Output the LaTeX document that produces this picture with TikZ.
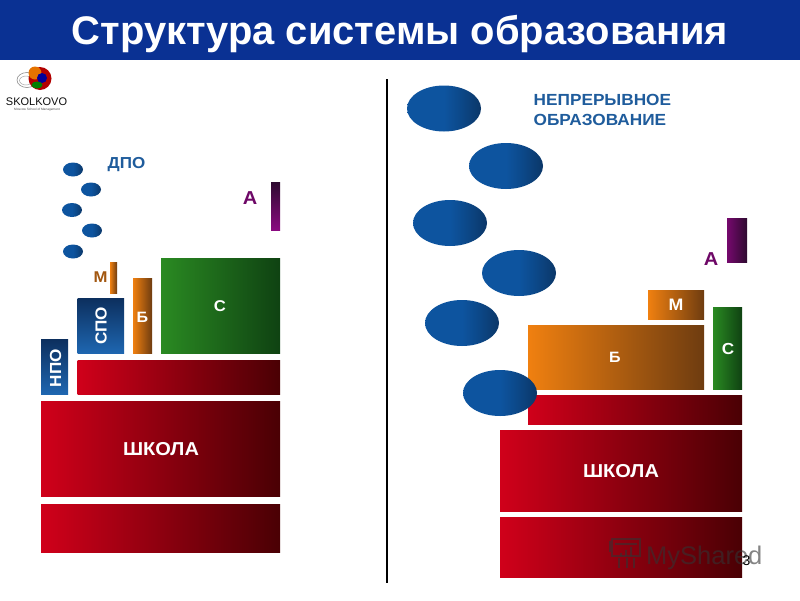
\documentclass[tikz,border=0pt]{standalone}
\usepackage{fontspec}
\setmainfont{Liberation Sans}
\newfontfamily\widefont{Liberation Sans}[FakeStretch=1.07]
\definecolor{band}{HTML}{0A3193}
\definecolor{lab}{HTML}{1F5C9C}
\definecolor{ered}{HTML}{D0001A}
\definecolor{dred}{HTML}{4A0004}
\definecolor{egreen}{HTML}{2A8A22}
\definecolor{dgreen}{HTML}{0F4212}
\definecolor{eora}{HTML}{F08010}
\definecolor{dora}{HTML}{6E3C10}
\definecolor{epur}{HTML}{8A0A80}
\definecolor{dpur}{HTML}{2E0A30}
\definecolor{eblue}{HTML}{1E66B0}
\definecolor{dblue}{HTML}{0C2F5E}
\definecolor{bl}{HTML}{0D549F}
\definecolor{br}{HTML}{0A2A50}
\pgfdeclarehorizontalshading{ballshade}{100bp}{color(0bp)=(bl); color(25bp)=(bl); color(50bp)=(bl); color(60bp)=(bl!75!br); color(75bp)=(br!70!bl); color(100bp)=(br)}
\tikzset{
  red block/.style={left color=ered,right color=dred,draw=none},
  green block/.style={left color=egreen,right color=dgreen,draw=none},
  orange block/.style={left color=eora,right color=dora,draw=none},
  purple block/.style={left color=epur!85!black,right color=dpur,draw=none},
  purple bar/.style={top color=dpur,bottom color=epur,draw=none},
  blue block/.style={top color=dblue,bottom color=eblue,draw=none},
  wlabel/.style={text=white,font=\widefont\bfseries\fontsize{#1}{#1}\selectfont},
  clabel/.style={font=\widefont\bfseries\fontsize{#1}{#1}\selectfont},
}
\newcommand{\blk}[6]{\fill[#2] (#3,#4) rectangle (#5,#6); \coordinate (#1) at ({(#3+#5)/2},{(#4+#6)/2});}
\newcommand{\orb}[5]{\shade[shading=ballshade] (#2,#3) ellipse ({#4} and {#5}); \coordinate (#1) at (#2,#3);}
\begin{document}
\begin{tikzpicture}[x=1pt,y=-1pt]
\useasboundingbox (0,0) rectangle (800,600);
\fill[white] (0,0) rectangle (800,600);
% title
\fill[band] (0,0) rectangle (800,60);
\node[text=white,font=\bfseries\fontsize{39.9}{40}\selectfont,anchor=center] (title) at (400,34) {Структура системы образования};
% logo
\draw[black!45,line width=.6] (27,80) ellipse (10 and 7.5);
\draw[black!35,line width=.5] (26,80.5) ellipse (6.5 and 4.5);
\fill[red!70!black] (40,78.5) circle (11.5);
\fill[orange!90!black] (35,73) circle (6.5);
\fill[blue!60!black] (42,78) circle (5);
\fill[green!50!black] (37,85) ellipse (5.5 and 3.5);
\node[font=\fontsize{11}{12}\selectfont,text=black!95,inner sep=0] (logo) at (36.5,102) {SKOLKOVO};
\node[font=\fontsize{3.2}{4}\selectfont,text=black!70,inner sep=0] (logosub) at (37,109.5) {Moscow School of Management};
% divider
\coordinate (divtop) at (387,79);
\coordinate (divbot) at (387,583);
\draw[black,line width=1.3] (divtop) -- (divbot);
% left balls
\orb{la}{73}{169.5}{10}{7}
\orb{lb}{91}{189.5}{10}{7}
\orb{lc}{72}{210}{10}{7}
\orb{ld}{92}{230.5}{10}{7}
\orb{le}{73}{251.5}{10}{7}
\node[clabel=15.9,text=lab] (dpo) at (126.5,164.5) {ДПО};
% left blocks
\blk{aL}{purple bar}{271}{182}{280}{230}
\node[clabel=18.7,text=epur!80!black] (aLt) at (250,198.5) {А};
\blk{mL}{orange block}{110}{262}{117}{293}
\node[clabel=15.6,text=dora!60!eora] (mLt) at (100.5,277) {М};
\blk{sL}{green block}{161}{258}{280}{353}
\node[wlabel=15.6] (sLt) at (220,306.5) {С};
\blk{bL}{orange block}{133}{278}{152}{353}
\node[wlabel=15] (bLt) at (142.5,317) {Б};
\blk{spo}{blue block}{77.5}{298}{124}{353}
\node[wlabel=16,rotate=90] (spot) at (101,326) {СПО};
\blk{npo}{blue block}{41}{339}{68}{394}
\node[wlabel=16,rotate=90] (npot) at (55.5,368) {НПО};
\blk{r1}{red block}{77.5}{360}{280}{394}
\blk{r2}{red block}{41}{401}{280}{496}
\node[wlabel=18.7] (shL) at (161,449) {ШКОЛА};
\blk{r3}{red block}{41}{504}{280}{552}
% right text
\node[align=left,anchor=north west,inner sep=0,text=lab,font=\widefont\bfseries\fontsize{16.1}{20}\selectfont] (cont) at (533.5,94) {НЕПРЕРЫВНОЕ\\ОБРАЗОВАНИЕ};
% right blocks
\blk{aR}{purple block}{727}{218}{747}{262}
\node[clabel=18.7,text=epur!80!black] (aRt) at (711,259.5) {А};
\blk{mR}{orange block}{648}{290}{704}{319}
\node[wlabel=16.6] (mRt) at (676,305) {М};
\blk{bR}{orange block}{528}{325}{704}{389}
\node[wlabel=15] (bRt) at (615,357) {Б};
\blk{sR}{green block}{713}{307}{742}{389}
\node[wlabel=16] (sRt) at (728,349) {С};
\blk{r4}{red block}{528}{395}{742}{424}
\blk{r5}{red block}{500}{430}{742}{511}
\node[wlabel=18.7] (shR) at (621,471) {ШКОЛА};
\blk{r6}{red block}{500}{517}{742}{577}
% right balls
\orb{ra}{444}{108.5}{37}{23}
\orb{rb}{506}{166}{37}{23}
\orb{rc}{450}{223}{37}{23}
\orb{rd}{519}{273}{37}{23}
\orb{re}{462}{323}{37}{23}
\orb{rf}{500}{393}{37}{23}
% watermark and page number
\begin{scope}[black!80,opacity=.6,line width=1.4]
\draw (612,539) rectangle (640,556);
\draw (610,541) -- (610,552);
\draw (615,544) -- (637,544);
\draw (619,558) -- (619,568) (627,558) -- (627,568) (634,558) -- (634,568);
\fill (620,553) rectangle (622,556) (625,550) rectangle (627,556) (630,547) rectangle (632,556);
\end{scope}
\node[opacity=.6,text=black!80,font=\fontsize{25.5}{26}\selectfont,inner sep=0,anchor=base west] (mark) at (646,564) {MyShared};
\node[font=\fontsize{14}{14}\selectfont,inner sep=0,text=black] (page) at (746.5,561) {3};
\end{tikzpicture}
\end{document}
